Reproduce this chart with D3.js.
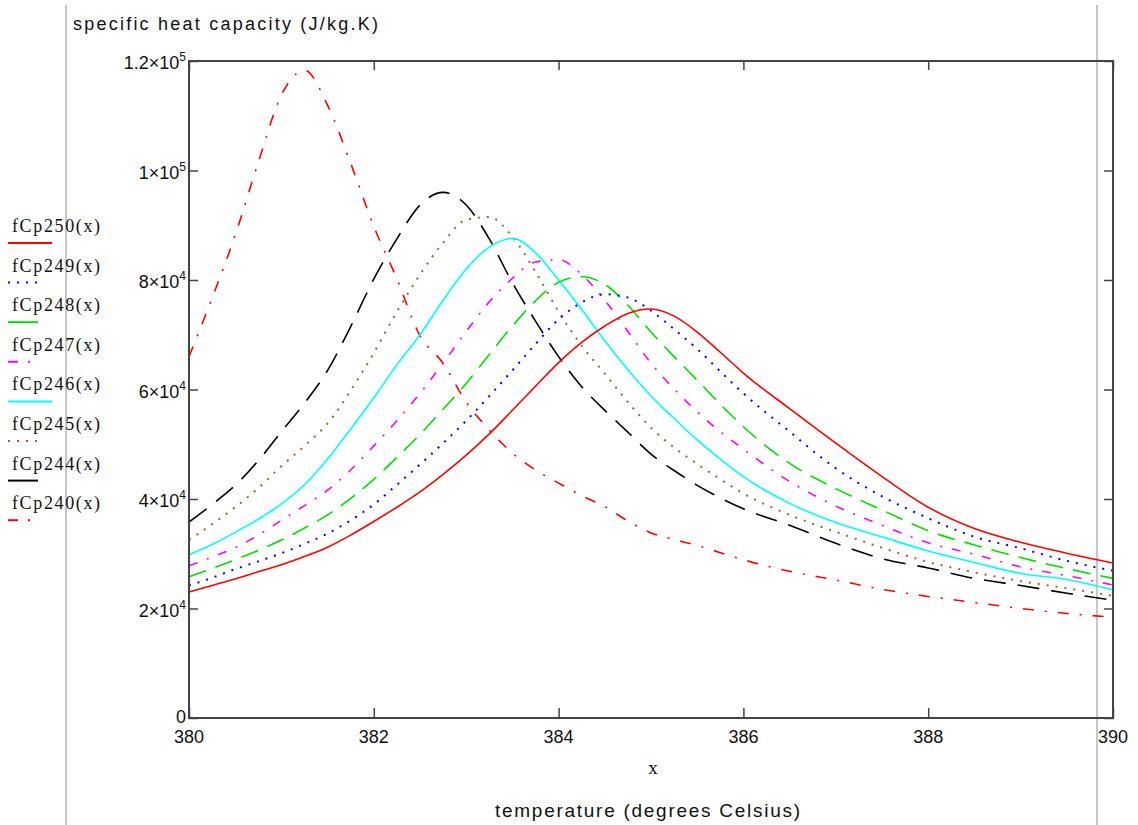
<!DOCTYPE html>
<html>
<head>
<meta charset="utf-8">
<script src="https://cdn.jsdelivr.net/npm/d3@7/dist/d3.min.js"></script>
<style>
  html, body { margin: 0; padding: 0; background: #ffffff; }
  svg { display: block; }
</style>
</head>
<body>
<svg id="chart" width="1138" height="825"></svg>
<script>
// ---------------- DATA ----------------
const temperatures = [380, 380.25, 380.5, 380.75, 381, 381.25, 381.5, 381.75, 382, 382.25, 382.5, 382.75,
  383, 383.25, 383.5, 383.75, 384, 384.25, 384.5, 384.75, 385, 385.25, 385.5, 385.75, 386,
  386.5, 387, 387.5, 388, 388.5, 389, 389.5, 390];

const fCp250 = [23000, 24200, 25400, 26700, 28000, 29500, 31200, 33400, 35900, 38500, 41300, 44500,
  48000, 51900, 56200, 60600, 64900, 68600, 71600, 73900, 74700, 73400, 70500, 66800, 63000,
  56500, 50200, 44100, 38500, 34600, 32100, 30100, 28300];
const fCp249 = [24200, 25600, 27200, 28600, 30100, 31800, 33700, 36100, 39000, 42600, 46300, 50200,
  54300, 58800, 63500, 68300, 72800, 75900, 77400, 76800, 74400, 71000, 67400, 63300, 59300,
  52300, 45600, 40500, 36500, 33100, 31000, 28700, 26900];
const fCp248 = [25800, 27300, 28900, 30600, 32500, 34700, 37100, 40100, 43600, 47600, 51800, 56400,
  61100, 66400, 71600, 76200, 79600, 80600, 79200, 75400, 70500, 66000, 61700, 57300, 53200,
  46500, 41900, 38000, 34200, 31600, 29300, 27300, 25500];
const fCp247 = [27800, 29400, 31100, 33400, 36100, 38800, 41600, 45300, 49700, 54300, 59300, 64800,
  70600, 76000, 80300, 83300, 83700, 81000, 76300, 70600, 64800, 60100, 55900, 52300, 49100,
  43200, 38700, 35200, 32000, 29900, 27600, 26000, 24300];
const fCp246 = [29800, 31700, 33900, 36300, 39100, 42600, 47300, 52800, 58500, 64500, 70000, 76300,
  82000, 86000, 87600, 85000, 80000, 74600, 68900, 63600, 58800, 54700, 50800, 47300, 44100,
  39200, 35700, 33100, 30500, 28400, 26400, 25300, 23400];
const fCp245 = [32500, 35400, 38500, 42000, 46000, 49700, 53800, 59800, 66700, 74200, 81000, 86800,
  91000, 91500, 87900, 81500, 74200, 68000, 62900, 57700, 53000, 49400, 46400, 43600, 41000,
  37100, 34000, 31100, 28500, 26600, 25000, 23700, 22300];
const fCp244 = [35800, 39000, 42500, 47000, 52300, 57500, 63500, 71500, 80200, 87500, 93700, 96000,
  93700, 87500, 79500, 72500, 66000, 60500, 56200, 52200, 48200, 45200, 42500, 40200, 38200,
  35200, 31900, 29100, 27400, 25500, 24200, 22800, 21500];
const fCp240 = [66000, 76700, 88200, 101500, 113800, 118300, 111900, 101300, 89800, 80200, 69800, 64800,
  57700, 52600, 48400, 45300, 42900, 40600, 38600, 36000, 33800, 32600, 31500, 30200, 28900,
  26800, 25200, 23500, 22200, 21100, 20000, 19100, 18400];

const seriesNames = ["fCp250(x)", "fCp249(x)", "fCp248(x)", "fCp247(x)", "fCp246(x)", "fCp245(x)", "fCp244(x)", "fCp240(x)"];
const seriesValues = [fCp250, fCp249, fCp248, fCp247, fCp246, fCp245, fCp244, fCp240];

const xTickValues = [380, 382, 384, 386, 388, 390];
const xTickLabels = ["380", "382", "384", "386", "388", "390"];
const yTickValues = [0, 20000, 40000, 60000, 80000, 100000, 120000];
const yTickMantissa = ["0", "2\u00d710", "4\u00d710", "6\u00d710", "8\u00d710", "1\u00d710", "1.2\u00d710"];
const yTickExponent = ["", "4", "4", "4", "4", "5", "5"];

const yTitle = "specific heat capacity (J/kg.K)";
const xVarLabel = "x";
const xTitle = "temperature (degrees Celsius)";

// ---------------- STYLES ----------------
const styles = [
  { color: "#ff0000", dash: null,          width: 1.6, legendLen: 44 },
  { color: "#0000ff", dash: "2,7",         width: 2.0, legendLen: 36 },
  { color: "#00dd00", dash: "18,10",       width: 1.6, legendLen: 30 },
  { color: "#ff00ff", dash: "9,10,2,10",   width: 1.6, legendLen: 30 },
  { color: "#00ffff", dash: null,          width: 1.6, legendLen: 44 },
  { color: "#996633", dash: "2,7",         width: 2.0, legendLen: 36 },
  { color: "#000000", dash: "22,12",       width: 1.6, legendLen: 30 },
  { color: "#ff0000", dash: "11,11,2,11",  width: 1.6, legendLen: 30 }
];
const legendDash = [null, "2,7", null, "10,10,2,10", null, "2,7", null, "10,10,2,10"];

// ---------------- LAYOUT ----------------
const svg = d3.select("#chart");
const plotLeft = 189, plotRight = 1113, plotTop = 61, plotBottom = 718;

const x = d3.scaleLinear().domain([380, 390]).range([plotLeft, plotRight]);
const y = d3.scaleLinear().domain([0, 120000]).range([plotBottom, plotTop]);

// light gray vertical guide lines of the worksheet
svg.append("line").attr("x1", 66).attr("x2", 66).attr("y1", 5).attr("y2", 825)
  .attr("stroke", "#c8c8c8").attr("stroke-width", 2);
svg.append("line").attr("x1", 1097).attr("x2", 1097).attr("y1", 5).attr("y2", 825)
  .attr("stroke", "#c8c8c8").attr("stroke-width", 2);

// series lines
const lineGen = d3.line()
  .x((d, i) => x(temperatures[i]))
  .y(d => y(d))
  .curve(d3.curveMonotoneX);

const plot = svg.append("g");
const order = [7, 6, 5, 4, 3, 2, 1, 0];
order.forEach(k => {
  plot.append("path")
    .datum(seriesValues[k])
    .attr("d", lineGen)
    .attr("fill", "none")
    .attr("stroke", styles[k].color)
    .attr("stroke-width", styles[k].width)
    .attr("stroke-dasharray", styles[k].dash);
});

// frame
const axisColor = "#444444";
svg.append("rect")
  .attr("x", plotLeft).attr("y", plotTop)
  .attr("width", plotRight - plotLeft).attr("height", plotBottom - plotTop)
  .attr("fill", "none").attr("stroke", axisColor).attr("stroke-width", 2);

// axes (ticks inward)
const xAxisB = d3.axisBottom(x).tickValues(xTickValues).tickSizeInner(-10).tickSizeOuter(0).tickFormat("");
const xAxisT = d3.axisTop(x).tickValues(xTickValues).tickSizeInner(-9).tickSizeOuter(0).tickFormat("");
const yAxisL = d3.axisLeft(y).tickValues(yTickValues).tickSizeInner(-9).tickSizeOuter(0).tickFormat("");
const yAxisR = d3.axisRight(y).tickValues(yTickValues).tickSizeInner(-9).tickSizeOuter(0).tickFormat("");

function styleAxis(g) {
  g.select(".domain").remove();
  g.selectAll(".tick line").attr("stroke", axisColor).attr("stroke-width", 1.5);
}
svg.append("g").attr("transform", `translate(0,${plotBottom})`).call(xAxisB).call(styleAxis);
svg.append("g").attr("transform", `translate(0,${plotTop})`).call(xAxisT).call(styleAxis);
svg.append("g").attr("transform", `translate(${plotLeft},0)`).call(yAxisL).call(styleAxis);
svg.append("g").attr("transform", `translate(${plotRight},0)`).call(yAxisR).call(styleAxis);

const labelFont = "'Liberation Sans', Arial, sans-serif";

// x tick labels
svg.append("g").selectAll("text")
  .data(xTickValues)
  .join("text")
  .attr("x", d => x(d))
  .attr("y", 743)
  .attr("text-anchor", "middle")
  .attr("font-family", labelFont)
  .attr("font-size", 18)
  .attr("fill", "#111")
  .text((d, i) => xTickLabels[i]);

// y tick labels with superscript exponents
const yl = svg.append("g").selectAll("text")
  .data(yTickValues)
  .join("text")
  .attr("x", 186)
  .attr("y", (d, i) => y(d) + (i === 0 ? 5 : 8))
  .attr("text-anchor", "end")
  .attr("font-family", labelFont)
  .attr("font-size", 18)
  .attr("fill", "#111");
yl.append("tspan").text((d, i) => yTickMantissa[i]);
yl.append("tspan")
  .attr("dy", (d, i) => yTickExponent[i] ? -8 : 0)
  .attr("font-size", 12)
  .text((d, i) => yTickExponent[i]);

// titles
svg.append("text")
  .attr("x", 73).attr("y", 30)
  .attr("font-family", labelFont).attr("font-size", 18).attr("fill", "#111")
  .attr("textLength", 305).attr("lengthAdjust", "spacing")
  .text(yTitle);
svg.append("text")
  .attr("x", 653).attr("y", 774)
  .attr("text-anchor", "middle")
  .attr("font-family", "'Liberation Serif', 'Times New Roman', serif").attr("font-size", 19).attr("fill", "#111")
  .text(xVarLabel);
svg.append("text")
  .attr("x", 495).attr("y", 817)
  .attr("font-family", labelFont).attr("font-size", 19).attr("fill", "#111")
  .attr("textLength", 305).attr("lengthAdjust", "spacing")
  .text(xTitle);

// legend
const legend = svg.append("g");
seriesNames.forEach((name, i) => {
  const ty = 232 + i * 39.6;
  legend.append("text")
    .attr("x", 12).attr("y", ty)
    .attr("font-family", "'Liberation Serif', 'Times New Roman', serif")
    .attr("font-size", 18).attr("fill", "#111")
    .attr("textLength", 88).attr("lengthAdjust", "spacing")
    .text(name);
  legend.append("line")
    .attr("x1", 8).attr("x2", 8 + styles[i].legendLen)
    .attr("y1", ty + 11).attr("y2", ty + 11)
    .attr("stroke", styles[i].color).attr("stroke-width", 2)
    .attr("stroke-dasharray", legendDash[i]);
});
</script>
</body>
</html>
